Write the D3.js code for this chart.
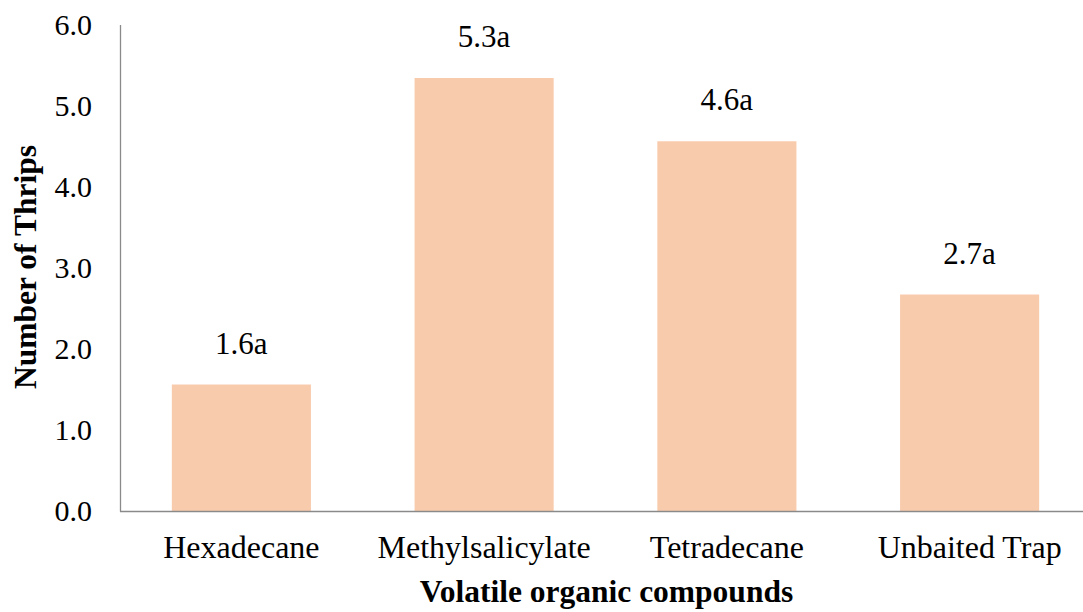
<!DOCTYPE html>
<html>
<head>
<meta charset="utf-8">
<script src="https://cdn.jsdelivr.net/npm/d3@7/dist/d3.min.js"></script>
<style>
  html, body { margin: 0; padding: 0; background: #fff; }
  svg { display: block; }
  text { font-family: "Liberation Serif", "Times New Roman", serif; fill: #000; }
</style>
</head>
<body>
<svg id="chart" width="1083" height="612"></svg>
<script>
// Mean thrips caught per trap for each volatile compound
const categories = ["Hexadecane", "Methylsalicylate", "Tetradecane", "Unbaited Trap"];
const thripsMeans = [1.56, 5.34, 4.56, 2.67];
const significance = ["a", "a", "a", "a"];
const yTicks = [0, 1, 2, 3, 4, 5, 6];

const svg = d3.select("#chart");
const plotLeft = 120, plotBottom = 511, plotTop = 24.5, plotRight = 1091;

const x = d3.scaleBand()
  .domain(categories)
  .range([plotLeft, plotRight])
  .paddingInner(0.427)
  .paddingOuter(0.2135);

const y = d3.scaleLinear().domain([0, 6]).range([plotBottom, plotTop]);

const axisColor = "#8a8a8a";
const serif = "'Liberation Serif', 'Times New Roman', serif";

// Bars
svg.append("g")
  .selectAll("rect")
  .data(categories)
  .join("rect")
  .attr("x", d => x(d))
  .attr("width", x.bandwidth())
  .attr("y", (d, i) => y(thripsMeans[i]))
  .attr("height", (d, i) => y(0) - y(thripsMeans[i]))
  .attr("fill", "#F8CBAD");

// Y axis
const yAxis = svg.append("g")
  .attr("transform", `translate(${plotLeft},0)`)
  .call(d3.axisLeft(y).tickValues(yTicks).tickFormat(d3.format(".1f"))
    .tickSize(0).tickSizeOuter(0).tickPadding(28));
yAxis.select(".domain").attr("stroke", axisColor).attr("stroke-width", 1.3);
yAxis.selectAll("text")
  .style("font-family", serif)
  .style("font-size", "30px")
  .attr("fill", "#000");

// X axis
const xAxis = svg.append("g")
  .attr("transform", `translate(0,${plotBottom})`)
  .call(d3.axisBottom(x).tickSize(0).tickSizeOuter(0).tickPadding(24));
xAxis.select(".domain").attr("stroke", axisColor).attr("stroke-width", 1.5)
  .attr("d", `M${plotLeft},0.5H${plotRight}`);
xAxis.selectAll("text")
  .style("font-family", serif)
  .style("font-size", "32px")
  .attr("fill", "#000");

// Value labels with significance letters
svg.append("g")
  .selectAll("text")
  .data(categories)
  .join("text")
  .attr("x", d => x(d) + x.bandwidth() / 2)
  .attr("y", (d, i) => y(thripsMeans[i]) - 31)
  .attr("text-anchor", "middle")
  .style("font-size", "31px")
  .text((d, i) => d3.format(".1f")(thripsMeans[i]) + significance[i]);

// Axis titles
svg.append("text")
  .attr("transform", "translate(36,267) rotate(-90)")
  .attr("text-anchor", "middle")
  .style("font-size", "31.5px")
  .style("font-weight", "bold")
  .text("Number of Thrips");

svg.append("text")
  .attr("x", 606.5)
  .attr("y", 602)
  .attr("text-anchor", "middle")
  .style("font-size", "31.5px")
  .style("font-weight", "bold")
  .text("Volatile organic compounds");
</script>
</body>
</html>
